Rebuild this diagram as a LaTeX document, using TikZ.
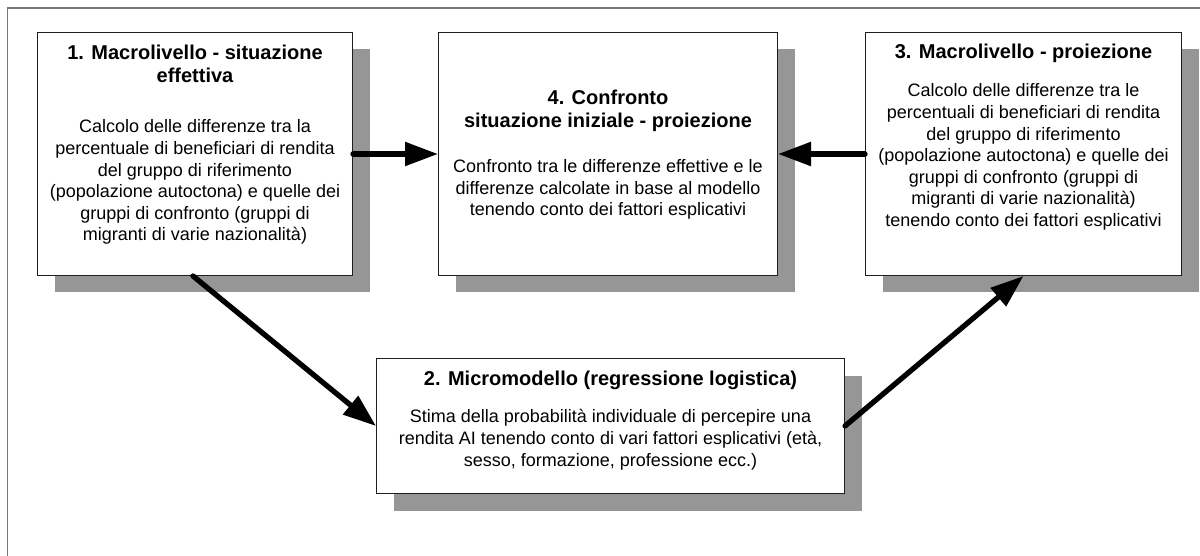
\documentclass[tikz,border=0pt]{standalone}
\usepackage{fontspec}
\setmainfont{Liberation Sans}
\usetikzlibrary{arrows.meta,shadows}
\definecolor{shadowgrey}{RGB}{150,150,150}
\definecolor{framegrey}{RGB}{120,120,120}
\definecolor{boxline}{RGB}{30,30,30}
\tikzset{
  stagebox/.style={draw=boxline, line width=1pt, fill=white, rectangle, anchor=north west, inner sep=0pt,
    drop shadow={shadow xshift=17pt, shadow yshift=-17pt, fill=shadowgrey, opacity=1}},
  titletext/.style={anchor=north, align=center, inner sep=0pt, font=\fontsize{20pt}{23pt}\selectfont\bfseries},
  bodytext/.style={anchor=north, align=center, inner sep=0pt, font=\fontsize{18pt}{21.6pt}\selectfont},
  conn/.style={line width=5.3pt, line cap=round, -{Triangle[length=33pt,width=23pt]}},
}
\newcommand{\tstrut}{\rule{0pt}{15pt}}
\newcommand{\bstrut}{\rule{0pt}{14pt}}
\begin{document}
\begin{tikzpicture}[x=1pt,y=-1pt]
\useasboundingbox (0,0) rectangle (1200,556);
\draw[framegrey, line width=1.5pt] (7.5,556) -- (7.5,8) -- (1200,8);

\node[stagebox, minimum width=315pt, minimum height=243pt] (b1) at (37,32) {};
\node[stagebox, minimum width=339pt, minimum height=243pt] (b4) at (438,32) {};
\node[stagebox, minimum width=316pt, minimum height=243pt] (b3) at (865,32) {};
\node[stagebox, minimum width=468pt, minimum height=135pt] (b2) at (376,358) {};

\node[titletext] (t1) at ([yshift=-12.3pt]b1.north) {\tstrut 1. Macrolivello - situazione\\effettiva};
\node[bodytext] (d1) at ([yshift=-86.7pt]b1.north) {\bstrut Calcolo delle differenze tra la\\percentuale di beneficiari di rendita\\del gruppo di riferimento\\(popolazione autoctona) e quelle dei\\gruppi di confronto (gruppi di\\migranti di varie nazionalità)};

\node[titletext] (t4) at ([yshift=-57pt]b4.north) {\tstrut 4. Confronto\\situazione iniziale - proiezione};
\node[bodytext] (d4) at ([yshift=-126.3pt]b4.north) {\bstrut Confronto tra le differenze effettive e le\\differenze calcolate in base al modello\\tenendo conto dei fattori esplicativi};

\node[titletext] (t3) at ([yshift=-11.3pt]b3.north) {\tstrut 3. Macrolivello - proiezione};
\node[bodytext] (d3) at ([yshift=-50.7pt]b3.north) {\bstrut Calcolo delle differenze tra le\\percentuali di beneficiari di rendita\\del gruppo di riferimento\\(popolazione autoctona) e quelle dei\\gruppi di confronto (gruppi di\\migranti di varie nazionalità)\\tenendo conto dei fattori esplicativi};

\node[titletext] (t2) at ([yshift=-12.7pt]b2.north) {\tstrut 2. Micromodello (regressione logistica)};
\node[bodytext] (d2) at ([yshift=-50.7pt]b2.north) {\bstrut Stima della probabilità individuale di percepire una\\rendita AI tenendo conto di vari fattori esplicativi (età,\\sesso, formazione, professione ecc.)};

\draw[conn] (b1.east) -- (b4.west);
\draw[conn] (b3.west) -- (b4.east);
\draw[conn] ([xshift=-2pt]b1.south) -- (b2.west);
\draw[conn] (b2.east) -- (b3.south);
\end{tikzpicture}
\end{document}
